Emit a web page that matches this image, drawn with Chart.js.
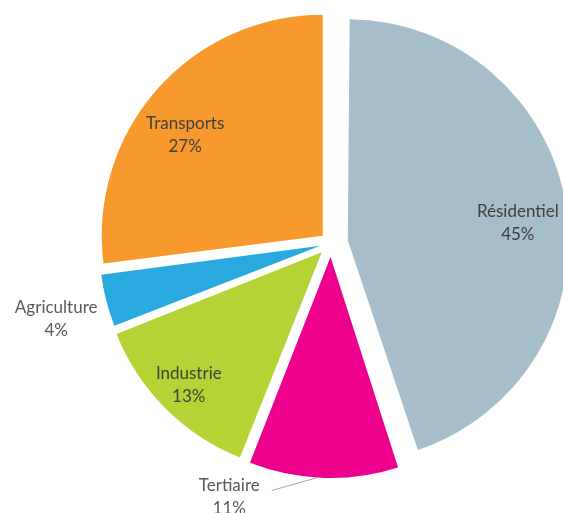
<!DOCTYPE html>
<html>
<head>
<meta charset="utf-8">
<script src="https://cdn.jsdelivr.net/npm/chart.js@4"></script>
<style>
  html, body { margin: 0; padding: 0; background: #fff; }
</style>
</head>
<body>
<canvas id="pie" width="563" height="513"></canvas>
<script>
// Données : répartition par secteur (%)
const categories = ['Résidentiel', 'Tertiaire', 'Industrie', 'Agriculture', 'Transports'];
const shares = [45, 11, 13, 4, 27];

// Couleurs des parts
const sliceColors = ['#A6BDCA', '#EC008C', '#B6D335', '#2AA9E0', '#F7992D'];
// Écartement de chaque part (option offset de Chart.js)
const sliceOffsets = [68, 56, 52, 44, 44];

const PIE_RADIUS = 221;

// Placement des étiquettes : distance (en rayons) et décalage d'angle (degrés)
const labelPlacement = [
    { dist: 0.85, shift: 3, inside: true },
    { dist: 1.24, shift: 20, inside: false, leader: true },
    { dist: 0.91, shift: 0, inside: true },
    { dist: 1.29, shift: -1, inside: false },
    { dist: 0.82, shift: -5, inside: true }
];

// Chart.js agrandit le rayon des parts écartées : on compense
// pour que toutes les parts gardent le même rayon
const sameRadiusPlugin = {
    id: 'sameRadius',
    beforeDatasetsDraw(chart) {
        const meta = chart.getDatasetMeta(0);
        meta.data.forEach((arc, i) => {
            const circ = arc.endAngle - arc.startAngle;
            const fix = 1 - Math.sin(Math.min(Math.PI, circ));
            arc.outerRadius = PIE_RADIUS - (sliceOffsets[i] / 4) * fix;
        });
    }
};

// Plugin pour dessiner les étiquettes (nom + pourcentage)
const labelsPlugin = {
    id: 'pieLabels',
    afterDatasetsDraw(chart) {
        const ctx = chart.ctx;
        const meta = chart.getDatasetMeta(0);
        ctx.save();
        ctx.font = '17px Lato';
        ctx.textAlign = 'center';
        ctx.textBaseline = 'alphabetic';
        meta.data.forEach((arc, i) => {
            const p = labelPlacement[i];
            const mid = (arc.startAngle + arc.endAngle) / 2;
            const a = mid + p.shift * Math.PI / 180;
            const d = p.dist * PIE_RADIUS;
            const x = arc.x + Math.cos(a) * d;
            const y = arc.y + Math.sin(a) * d;
            ctx.fillStyle = p.inside ? '#404040' : '#595959';
            ctx.fillText(categories[i], x, y - 6);
            ctx.fillText(shares[i] + '%', x, y + 17);

            // Ligne de rappel
            if (p.leader) {
                const w = ctx.measureText(categories[i]).width;
                const la = mid + 0.026;
                const rr = PIE_RADIUS + 14;
                ctx.strokeStyle = '#A6A6A6';
                ctx.lineWidth = 1;
                ctx.beginPath();
                ctx.moveTo(arc.x + Math.cos(la) * rr, arc.y + Math.sin(la) * rr);
                ctx.lineTo(x + w / 2 + 12, y - 7);
                ctx.stroke();
            }
        });
        ctx.restore();
    }
};

new Chart(document.getElementById('pie'), {
    type: 'pie',
    data: {
        labels: categories,
        datasets: [{
            data: shares,
            backgroundColor: sliceColors,
            offset: sliceOffsets,
            hoverOffset: 0,
            borderWidth: 0
        }]
    },
    options: {
        responsive: false,
        animation: false,
        radius: PIE_RADIUS,
        layout: {
            padding: { left: 99, right: 0, top: 0, bottom: 27 }
        },
        plugins: {
            legend: { display: false },
            tooltip: { enabled: false }
        }
    },
    plugins: [sameRadiusPlugin, labelsPlugin]
});
</script>
</body>
</html>
